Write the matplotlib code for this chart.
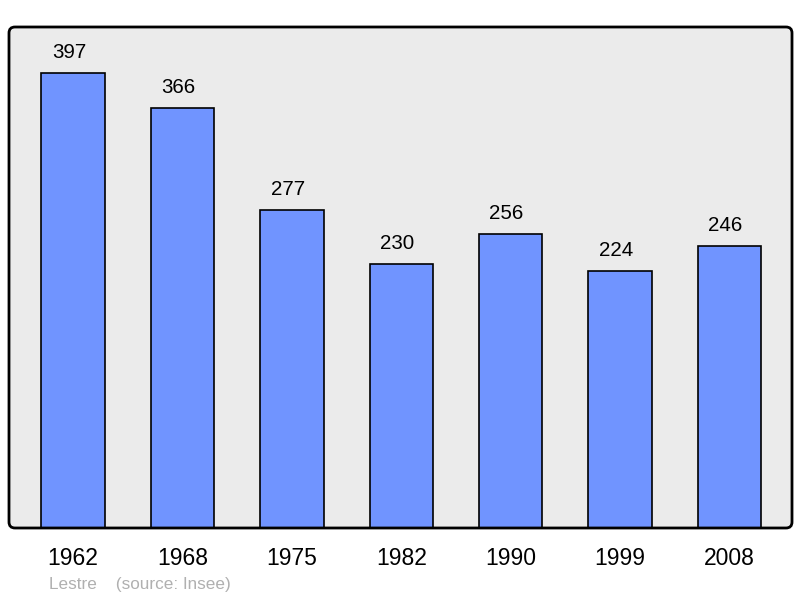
import numpy as np
import matplotlib
matplotlib.use("Agg")
import matplotlib.pyplot as plt
from matplotlib.patches import FancyBboxPatch

plt.rcParams['font.family'] = ['Liberation Sans', 'DejaVu Sans']

# data
years = ['1962', '1968', '1975', '1982', '1990', '1999', '2008']
population = [397, 366, 277, 230, 256, 224, 246]
source_label = 'Lestre    (source: Insee)'

fig = plt.figure(figsize=(8, 5.98), dpi=100)
ax = fig.add_axes([0.01125, 0.117, 0.97875, 0.838])
ax.set_facecolor('none')

# rounded frame: fill behind the axes, outline on top
box = dict(boxstyle='round,pad=0,rounding_size=0.06', transform=fig.dpi_scale_trans)
fig.patches.append(FancyBboxPatch((0.09, 0.70), 7.83, 5.01, facecolor='#ebebeb',
                                  edgecolor='none', zorder=-1, **box))
fig.patches.append(FancyBboxPatch((0.09, 0.70), 7.83, 5.01, facecolor='none',
                                  edgecolor='black', linewidth=2, zorder=5, **box))

x = np.arange(len(years))
ax.bar(x, population, width=0.58, color='#7094ff', edgecolor='black', linewidth=1.2, zorder=2)

for xi, v in zip(x, population):
    ax.annotate(str(v), (xi, v), xytext=(-3, 8), textcoords='offset points',
                ha='center', va='bottom', fontsize=14.8)

ax.set_xlim(-0.585, 6.57)
ax.set_ylim(0, 437)
ax.set_yticks([])
ax.set_xticks(x)
ax.set_xticklabels(years, fontsize=16.5)
ax.tick_params(axis='x', length=0, pad=14)
for s in ax.spines.values():
    s.set_visible(False)

fig.text(49 / 800, 1 - 584 / 598, source_label, color='#b0b0b0', fontsize=12.3, va='center', ha='left')

fig.savefig('out.png', dpi=100)
